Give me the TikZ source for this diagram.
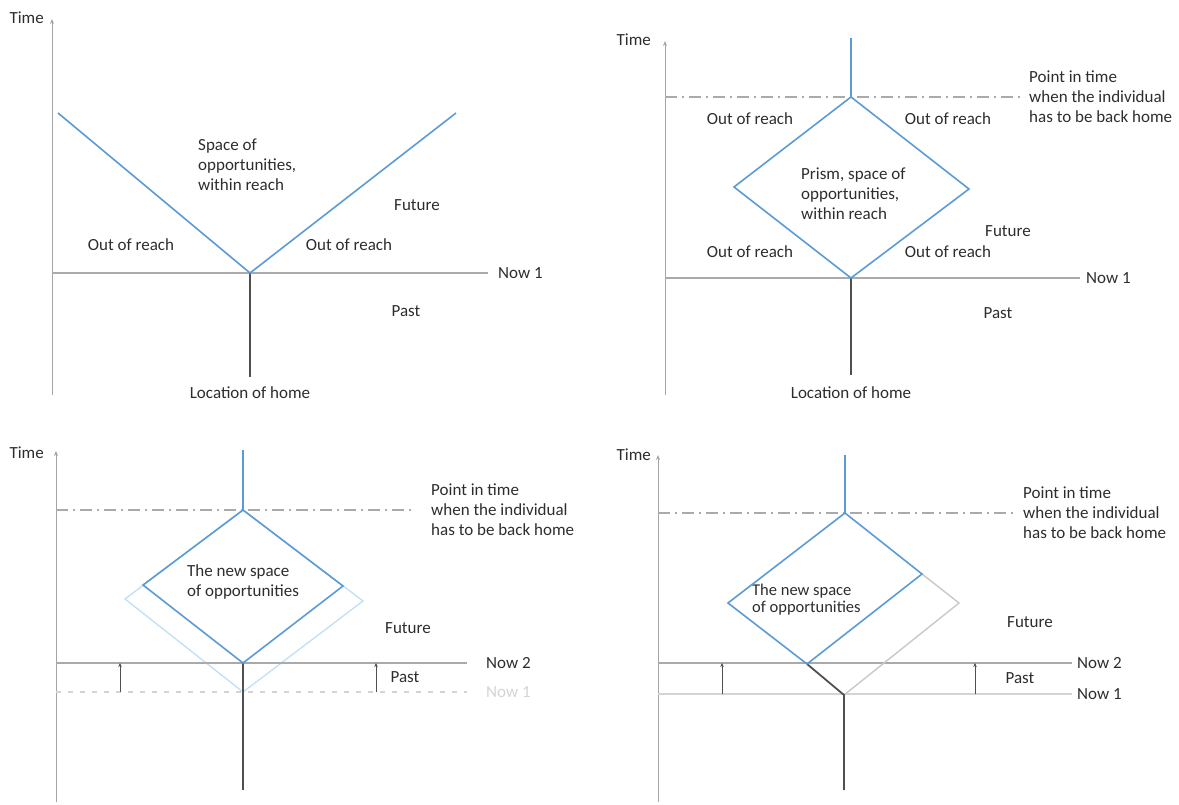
\documentclass[tikz,border=0pt]{standalone}
\usepackage{fontspec}
\setmainfont{Carlito}
\usetikzlibrary{arrows.meta, positioning}
\definecolor{prismblue}{RGB}{91,155,213}
\definecolor{paleblue}{RGB}{195,225,245}
\definecolor{axisgray}{RGB}{165,165,165}
\definecolor{nowgray}{RGB}{170,170,170}
\definecolor{homegray}{RGB}{80,80,80}
\definecolor{textgray}{RGB}{45,45,45}
\definecolor{fadegray}{RGB}{212,212,212}
\definecolor{oldgray}{RGB}{200,200,200}

\begin{document}
\begin{tikzpicture}[
        x=1pt, y=-1pt,
        txt/.style={font=\fontsize{17}{20}\selectfont, text=textgray, inner sep=1pt},
        timeaxis/.style={draw=axisgray, line width=1pt, -{Stealth[length=5pt, width=4pt]}},
        nowline/.style={draw=nowgray, line width=1.3pt},
        homeline/.style={draw=homegray, line width=1.8pt},
        prism/.style={draw=prismblue, line width=1.6pt},
        oldprism/.style={draw=paleblue, line width=1.4pt},
        backhome/.style={draw=nowgray, line width=1.3pt, dash pattern=on 12pt off 5pt on 2pt off 5pt},
        nowshift/.style={draw=homegray, line width=0.6pt, -{Stealth[length=4pt, width=3.5pt]}}
    ]
        \useasboundingbox (0,0) rectangle (1179,805);

        % Panel 1: open space of opportunities
        \coordinate (t1) at (52,19);
        \coordinate (b1) at (52,395);
        \coordinate (n1a) at (52,273);
        \coordinate (n1b) at (488,273);
        \coordinate (o1) at (250,273);
        \coordinate (l1) at (58,113);
        \coordinate (r1) at (456,113);
        \coordinate (h1) at (250,377);

        \node[txt, anchor=east] (time1) at (45,18) {Time};
        \node[txt, anchor=west] (now1) at (497,273) {Now 1};
        \node[txt] (home1) at (250,393) {Location of home};
        \node[txt, align=left, anchor=west] (space1) at (197,165) {Space of\\opportunities,\\within reach};
        \node[txt] (out1l) at (131,245) {Out of reach};
        \node[txt] (out1r) at (349,245) {Out of reach};
        \node[txt] (future1) at (417,205) {Future};
        \node[txt] (past1) at (406,311) {Past};

        \draw[timeaxis] (b1) -- (t1);
        \draw[nowline] (n1a) -- (n1b);
        \draw[homeline] (o1) -- (h1);
        \draw[prism] (l1) -- (o1) -- (r1);

        % Panel 2: prism
        \coordinate (t2) at (665,41);
        \coordinate (b2) at (665,395);
        \coordinate (n2a) at (665,278);
        \coordinate (n2b) at (1080,278);
        \coordinate (bh2a) at (665,97);
        \coordinate (bh2b) at (1025,97);
        \coordinate (v2) at (851,38);
        \coordinate (d2t) at (851,97);
        \coordinate (d2l) at (734,187);
        \coordinate (d2r) at (969,189);
        \coordinate (d2b) at (851,278);
        \coordinate (h2) at (851,375);

        \node[txt, anchor=east] (time2) at (652,40) {Time};
        \node[txt, anchor=west] (now2) at (1085,278) {Now 1};
        \node[txt] (home2) at (851,393) {Location of home};
        \node[txt, align=left, anchor=west] (point2) at (1028,97) {Point in time\\when the individual\\has to be back home};
        \node[txt, align=left, anchor=west] (prism2) at (800,194) {Prism, space of\\opportunities,\\within reach};
        \node[txt] (out2a) at (750,119) {Out of reach};
        \node[txt] (out2b) at (948,119) {Out of reach};
        \node[txt] (out2c) at (750,252) {Out of reach};
        \node[txt] (out2d) at (948,252) {Out of reach};
        \node[txt] (future2) at (1008,231) {Future};
        \node[txt] (past2) at (998,313) {Past};

        \draw[timeaxis] (b2) -- (t2);
        \draw[nowline] (n2a) -- (n2b);
        \draw[backhome] (bh2a) -- (bh2b);
        \draw[homeline] (d2b) -- (h2);
        \draw[prism] (v2) -- (d2t);
        \draw[prism] (d2t) -- (d2r) -- (d2b) -- (d2l) -- cycle;

        % Panel 3: new space of opportunities
        \coordinate (t3) at (56,451);
        \coordinate (b3) at (56,802);
        \coordinate (bh3a) at (56,510);
        \coordinate (bh3b) at (415,510);
        \coordinate (m3a) at (56,663);
        \coordinate (m3b) at (467,663);
        \coordinate (p3a) at (56,692);
        \coordinate (p3b) at (467,692);
        \coordinate (v3) at (243,450);
        \coordinate (d3t) at (243,510);
        \coordinate (d3l) at (143,585);
        \coordinate (d3r) at (343,586);
        \coordinate (d3b) at (243,663);
        \coordinate (e3l) at (125,599);
        \coordinate (e3r) at (363,601);
        \coordinate (e3b) at (243,692);
        \coordinate (h3) at (243,790);
        \coordinate (s3a) at (120,692);
        \coordinate (s3b) at (120,663);
        \coordinate (s3c) at (376,692);
        \coordinate (s3d) at (376,663);

        \node[txt, anchor=east] (time3) at (45,453) {Time};
        \node[txt, anchor=west] (now3b) at (485,663) {Now 2};
        \node[txt, anchor=west, text=fadegray] (now3a) at (485,692) {Now 1};
        \node[txt, align=left, anchor=west] (point3) at (430,510) {Point in time\\when the individual\\has to be back home};
        \node[txt, align=left, anchor=west] (new3) at (186,582) {The new space\\of opportunities};
        \node[txt] (future3) at (408,628) {Future};
        \node[txt] (past3) at (405,677) {Past};

        \draw[timeaxis] (b3) -- (t3);
        \draw[backhome] (bh3a) -- (bh3b);
        \draw[oldprism] (d3t) -- (e3r) -- (e3b) -- (e3l) -- cycle;
        \draw[draw=fadegray, line width=1.2pt, dash pattern=on 5pt off 7pt] (p3a) -- (p3b);
        \draw[nowline] (m3a) -- (m3b);
        \draw[nowshift] (s3a) -- (s3b);
        \draw[nowshift] (s3c) -- (s3d);
        \draw[homeline] (d3b) -- (h3);
        \draw[prism] (v3) -- (d3t);
        \draw[prism] (d3t) -- (d3r) -- (d3b) -- (d3l) -- cycle;

        % Panel 4: prism shrinks as time passes
        \coordinate (t4) at (658,455);
        \coordinate (b4) at (658,802);
        \coordinate (bh4a) at (658,513);
        \coordinate (bh4b) at (1015,513);
        \coordinate (m4a) at (658,663);
        \coordinate (m4b) at (1072,663);
        \coordinate (p4a) at (658,694);
        \coordinate (p4b) at (1072,694);
        \coordinate (v4) at (845,455);
        \coordinate (q4t) at (845,513);
        \coordinate (q4r) at (922,574);
        \coordinate (q4b) at (807,664);
        \coordinate (q4l) at (728,603);
        \coordinate (g4r) at (959,603);
        \coordinate (g4b) at (844,695);
        \coordinate (h4) at (844,790);
        \coordinate (s4a) at (722,694);
        \coordinate (s4b) at (722,663);
        \coordinate (s4c) at (975,694);
        \coordinate (s4d) at (975,663);

        \node[txt, anchor=east] (time4) at (652,455) {Time};
        \node[txt, anchor=west] (now4b) at (1076,663) {Now 2};
        \node[txt, anchor=west] (now4a) at (1076,694) {Now 1};
        \node[txt, align=left, anchor=west] (point4) at (1022,513) {Point in time\\when the individual\\has to be back home};
        \node[txt, align=left, anchor=west, font=\fontsize{16.5}{17}\selectfont] (new4) at (751,600) {The new space\\of opportunities};
        \node[txt] (future4) at (1030,622) {Future};
        \node[txt] (past4) at (1020,678) {Past};

        \draw[timeaxis] (b4) -- (t4);
        \draw[backhome] (bh4a) -- (bh4b);
        \draw[draw=fadegray, line width=1.2pt] (p4a) -- (p4b);
        \draw[nowline] (m4a) -- (m4b);
        \draw[nowshift] (s4a) -- (s4b);
        \draw[nowshift] (s4c) -- (s4d);
        \draw[draw=oldgray, line width=1.4pt] (q4r) -- (g4r) -- (g4b);
        \draw[homeline] (q4b) -- (g4b) -- (h4);
        \draw[prism] (v4) -- (q4t);
        \draw[prism] (q4t) -- (q4r) -- (q4b) -- (q4l) -- cycle;

    \end{tikzpicture}
\end{document}
